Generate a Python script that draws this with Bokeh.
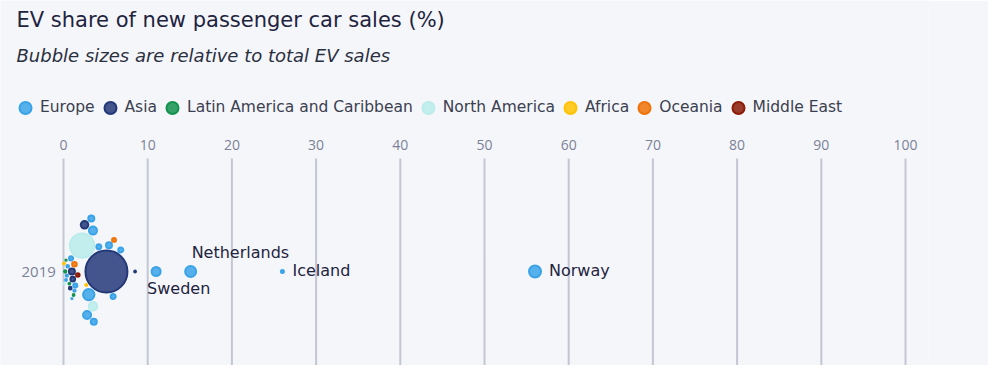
import math
from bokeh.plotting import figure
from bokeh.models import Range1d, FixedTicker, Legend, LegendItem, ColumnDataSource, Label
from bokeh.core.properties import value
from bokeh.embed import file_html
from bokeh.resources import INLINE

# ---------------- data ----------------
title = "EV share of new passenger car sales (%)"
subtitle = "Bubble sizes are relative to total EV sales"
year_label = "2019"
x_ticks = [0, 10, 20, 30, 40, 50, 60, 70, 80, 90, 100]

regions = ["Europe", "Asia", "Latin America and Caribbean", "North America",
           "Africa", "Oceania", "Middle East"]
region_colors = ["#3aa3e8", "#233878", "#13924e", "#b9eceb", "#ffc300", "#f07308", "#8b1a06"]

countries = ["China", "United States", "Norway", "Germany", "Netherlands", "Sweden",
             "United Kingdom", "France", "Canada", "Korea", "Iceland",
             "Switzerland", "Austria", "Belgium", "Japan", "Finland", "Portugal",
             "Denmark", "Spain", "Italy", "Australia", "New Zealand", "India",
             "Israel", "Poland", "Hungary", "Thailand", "Hong Kong", "Czechia",
             "Greece", "Slovenia", "Brazil", "Chile", "Costa Rica", "Colombia",
             "Mexico", "South Africa", "Mauritius"]
country_region = ["Asia", "North America", "Europe", "Europe", "Europe", "Europe",
                  "Europe", "Europe", "North America", "Asia", "Europe",
                  "Europe", "Europe", "Europe", "Asia", "Europe", "Europe",
                  "Europe", "Europe", "Europe", "Oceania", "Oceania", "Asia",
                  "Middle East", "Europe", "Europe", "Asia", "Asia", "Europe",
                  "Europe", "Europe", "Latin America and Caribbean",
                  "Latin America and Caribbean", "Latin America and Caribbean",
                  "Latin America and Caribbean", "North America", "Africa", "Africa"]
ev_share = [5.1, 2.2, 56.0, 3.0, 15.1, 11.0,
            3.5, 2.8, 3.5, 2.5, 26.0,
            5.4, 3.6, 3.3, 1.0, 6.8, 5.9,
            4.2, 1.4, 0.9, 1.3, 6.0, 1.1,
            1.7, 0.5, 1.3, 0.8, 8.5, 0.4,
            0.3, 1.0, 0.2, 0.7, 1.2, 0.3,
            0.1, 0.05, 2.7]
ev_sales_k = [1060, 380, 107, 98, 92, 66,
              55, 55, 60, 50, 14,
              35, 35, 35, 35, 27, 27,
              27, 20, 20, 24, 19, 24,
              17, 12, 10, 12, 8, 10,
              8, 6, 10, 8, 8, 6,
              6, 8, 8]
labelled = {"Netherlands": "above", "Sweden": "below", "Iceland": "right", "Norway": "right"}

# ---------------- layout constants (pixels) ----------------
PX_PER_UNIT = 8.42
R_PER_SQRT = 0.676
LINE_W = 2.0
BG = "#f5f6fa"
FONT = "DejaVu Sans"
TICK_FONT = "Open Sans"
W, H = 988, 365
X0_PX = 63          # where 0 % sits
CENTER_Y = 271      # row centre
GRID_TOP = 158      # where grid lines begin
TOP = 0             # frame top (everything drawn inside the frame)
RIGHT = 60          # right border (keeps the x scale fixed)

def ydata(page_y):
    return CENTER_Y - page_y

def xdata(page_x):
    return (page_x - X0_PX) / PX_PER_UNIT

# beeswarm packing (pixel space)
px = [s * PX_PER_UNIT for s in ev_share]
rad = [R_PER_SQRT * math.sqrt(v) for v in ev_sales_k]
order = sorted(range(len(countries)), key=lambda i: -rad[i])
ypos = [0.0] * len(countries)
placed = []
for i in order:
    cands = [0.0]
    for j in placed:
        dx = px[i] - px[j]
        d = rad[i] + rad[j] + 0.4
        if abs(dx) < d:
            dy = math.sqrt(d * d - dx * dx)
            cands += [ypos[j] + dy, ypos[j] - dy]
    cands.sort(key=lambda c: (round(abs(c), 6), -c))
    for c in cands:
        ok = True
        for j in placed:
            if (px[i] - px[j]) ** 2 + (c - ypos[j]) ** 2 < (rad[i] + rad[j]) ** 2 - 1e-6:
                ok = False
                break
        if ok:
            ypos[i] = c
            break
    placed.append(i)

# ---------------- figure ----------------
frame_w = W - RIGHT
p = figure(width=W, height=H, x_range=Range1d(xdata(0), xdata(frame_w)),
           y_range=Range1d(ydata(H), ydata(TOP)),
           x_axis_location="above", y_axis_location="right",
           output_backend="svg", toolbar_location=None,
           min_border_left=0, min_border_right=RIGHT, min_border_top=TOP, min_border_bottom=0,
           background_fill_color=BG, border_fill_color=BG, outline_line_color=None)
p.grid.visible = False

p.xaxis.ticker = FixedTicker(ticks=x_ticks)
p.xaxis.fixed_location = ydata(155)
p.xaxis.major_label_standoff = 0
p.yaxis.ticker = FixedTicker(ticks=[0])
p.yaxis.major_label_overrides = {0: year_label}
p.yaxis.fixed_location = xdata(15)
p.yaxis.major_label_standoff = 0
for ax in (p.xaxis, p.yaxis):
    ax.axis_line_color = None
    ax.major_tick_line_color = None
    ax.minor_tick_line_color = None
    ax.major_label_text_font = TICK_FONT
    ax.major_label_text_color = "#7b8297"
p.xaxis.major_label_text_font_size = "14px"
p.yaxis.major_label_text_font_size = "15px"

# vertical grid lines at the tick values, from below the tick labels down
p.segment(x0=x_ticks, x1=x_ticks, y0=[ydata(GRID_TOP)] * len(x_ticks),
          y1=[ydata(H + 20)] * len(x_ticks), line_color="#c3c7d3", line_width=2)

# bubbles, one renderer per region (largest first inside each region)
items = []
for reg, col in zip(regions, region_colors):
    idx = [i for i in order if country_region[i] == reg]
    src = ColumnDataSource(dict(
        x=[ev_share[i] for i in idx],
        y=[ypos[i] for i in idx],
        size=[2 * rad[i] - LINE_W for i in idx],
        name=[countries[i] for i in idx],
    ))
    r = p.scatter(x="x", y="y", size="size", source=src, fill_color=col, line_color=col,
                  fill_alpha=0.85, line_width=LINE_W)
    items.append(LegendItem(label=reg, renderers=[r]))

# legend row
leg = Legend(items=items, orientation="horizontal",
             location=(10, H - 125.5),
             glyph_width=30, glyph_height=37, label_standoff=0, spacing=0,
             padding=0, margin=0, border_line_color=None, background_fill_alpha=0,
             label_text_font=FONT, label_text_font_size="15.5px", label_text_color="#3b4050")
p.add_layout(leg, "center")

# title and subtitle
p.add_layout(Label(x=xdata(16), y=ydata(19), text=title, text_font=FONT,
                   text_font_size="21px", text_color="#1e2440",
                   text_baseline="middle", text_align="left"))
p.add_layout(Label(x=xdata(16), y=ydata(55), text=subtitle, text_font=FONT,
                   text_font_size="18px", text_font_style="italic", text_color="#2a2f40",
                   text_baseline="middle", text_align="left"))

# country labels
offsets = {"above": (1, -19), "below": (-9, 17), "right": (10, -1)}
lx, ly, ltxt, lxo, lyo = [], [], [], [], []
for i, c in enumerate(countries):
    if c in labelled:
        xo, yo = offsets[labelled[c]]
        if c == "Norway":
            xo = 14
        lx.append(ev_share[i]); ly.append(ypos[i]); ltxt.append(c)
        lxo.append(xo); lyo.append(yo)
p.text(x="x", y="y", text="t", x_offset="xo", y_offset="yo",
       source=ColumnDataSource(dict(x=lx, y=ly, t=ltxt, xo=lxo, yo=lyo)),
       text_font=value(FONT), text_font_size="16px", text_color="#1e2440",
       text_baseline="middle", text_align="left")

html = file_html(p, INLINE)
html = html.replace("<body>", '<body style="background-color:%s;">' % BG, 1)
open("out.html", "w").write(html)
